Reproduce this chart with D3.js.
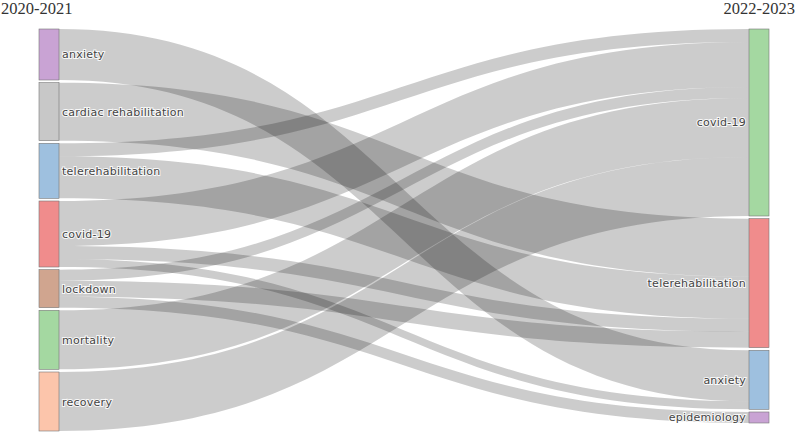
<!DOCTYPE html>
<html>
<head>
<meta charset="utf-8">
<script src="https://cdn.jsdelivr.net/npm/d3@7"></script>
<style>
  body { margin: 0; background: #fff; }
  .lbl { font-family: "DejaVu Sans", Verdana, sans-serif; font-size: 11px; letter-spacing: 0.25px; fill: #444;
         paint-order: stroke; stroke: #fff; stroke-width: 2px; stroke-opacity: 0.85; }
  .ttl { font-family: "Liberation Serif", serif; font-size: 16.5px; fill: #333; }
</style>
</head>
<body>
<div id="chart"></div>
<script>
// periods and nodes
var periods = ["2020-2021", "2022-2023"];
var leftNodes = ["anxiety", "cardiac rehabilitation", "telerehabilitation", "covid-19", "lockdown", "mortality", "recovery"];
var rightNodes = ["covid-19", "telerehabilitation", "anxiety", "epidemiology"];
var leftColors = ["#c9a3d4", "#c8c8c8", "#9ec0df", "#f08c8c", "#d0a58f", "#a4d8a1", "#fcc5ab"];
var rightColors = ["#a4d8a1", "#f08c8c", "#9ec0df", "#c9a3d4"];

// links (index into leftNodes -> index into rightNodes)
var linkSource = [0, 1, 2, 2, 3, 3, 3, 4, 4, 4, 5, 6];
var linkTarget = [2, 1, 0, 1, 0, 1, 2, 0, 1, 3, 0, 0];
var linkValue  = [51, 58, 13, 42, 45, 13, 8, 11, 16, 11, 59, 59];

var W = 797, H = 433;
var top0 = 29, bottom0 = 431, pad = 2.67, nodeW = 20;

var svg = d3.select('#chart').append('svg')
    .attr('width', W)
    .attr('height', H);

var x = d3.scalePoint().domain(periods).range([39, 749]);

var leftTotals = leftNodes.map(function(d, i) {
  return d3.sum(linkValue.filter(function(v, k) { return linkSource[k] === i; }));
});
var rightTotals = rightNodes.map(function(d, i) {
  return d3.sum(linkValue.filter(function(v, k) { return linkTarget[k] === i; }));
});

var ky = d3.scaleLinear()
    .domain([0, d3.sum(leftTotals)])
    .range([0, bottom0 - top0 - (leftNodes.length - 1) * pad]);

function column(names, totals, colors, period) {
  var y = top0;
  return names.map(function(n, i) {
    var node = {name: n, x0: x(period), x1: x(period) + nodeW, y0: y, y1: y + ky(totals[i]), color: colors[i], side: period};
    y = node.y1 + pad;
    return node;
  });
}
var L = column(leftNodes, leftTotals, leftColors, periods[0]);
var R = column(rightNodes, rightTotals, rightColors, periods[1]);

// link breadths: at source sorted by target position, at target sorted by source position
var links = linkValue.map(function(v, k) {
  return {s: L[linkSource[k]], t: R[linkTarget[k]], si: linkSource[k], ti: linkTarget[k], w: ky(v)};
});
L.forEach(function(n, i) {
  var y = n.y0;
  links.filter(function(l) { return l.si === i; })
    .sort(function(a, b) { return a.ti - b.ti; })
    .forEach(function(l) { l.sy = y; y += l.w; });
});
R.forEach(function(n, i) {
  var y = n.y0;
  links.filter(function(l) { return l.ti === i; })
    .sort(function(a, b) { return a.si - b.si; })
    .forEach(function(l) { l.ty = y; y += l.w; });
});

function band(l) {
  var x0 = l.s.x1, x1 = l.t.x0, xm = (x0 + x1) / 2;
  var p = d3.path();
  p.moveTo(x0, l.sy);
  p.bezierCurveTo(xm, l.sy, xm, l.ty, x1, l.ty);
  p.lineTo(x1, l.ty + l.w);
  p.bezierCurveTo(xm, l.ty + l.w, xm, l.sy + l.w, x0, l.sy + l.w);
  p.closePath();
  return p.toString();
}

svg.append('g').selectAll('path')
    .data(links)
    .enter().append('path')
        .attr('d', band)
        .style('fill', 'rgba(0,0,0,0.2)');

var nodes = L.concat(R);
svg.append('g').selectAll('rect')
    .data(nodes)
    .enter().append('rect')
        .attr('x', function(d) { return d.x0; })
        .attr('y', function(d) { return d.y0; })
        .attr('width', nodeW)
        .attr('height', function(d) { return d.y1 - d.y0; })
        .style('fill', function(d) { return d.color; })
        .style('stroke', '#777')
        .style('stroke-width', 0.6);

svg.append('g').selectAll('text')
    .data(nodes)
    .enter().append('text')
        .attr('class', 'lbl')
        .attr('x', function(d) { return d.side === periods[0] ? d.x1 + 3 : d.x0 - 3; })
        .attr('y', function(d) { return (d.y0 + d.y1) / 2 + 4; })
        .attr('text-anchor', function(d) { return d.side === periods[0] ? 'start' : 'end'; })
        .text(function(d) { return d.name; });

svg.append('text').attr('class', 'ttl').attr('x', 1).attr('y', 14).text(periods[0]);
svg.append('text').attr('class', 'ttl').attr('x', 795).attr('y', 14)
    .attr('text-anchor', 'end').text(periods[1]);
</script>
</body>
</html>
